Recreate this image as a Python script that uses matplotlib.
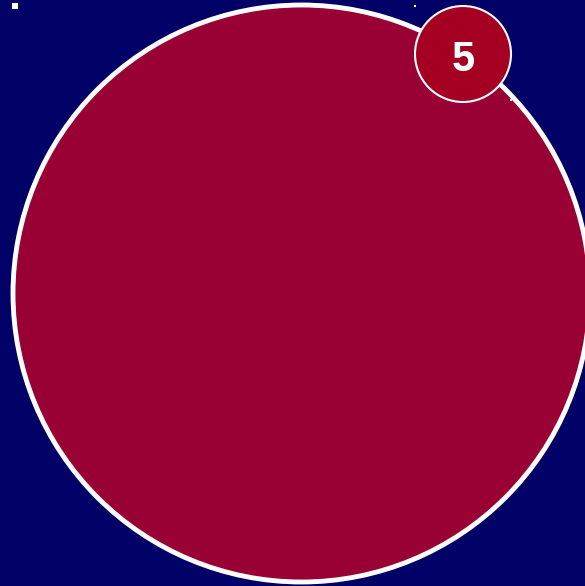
import matplotlib
matplotlib.use("Agg")
import matplotlib.pyplot as plt
from matplotlib.patches import Circle

# one bubble with its count badge
bubble_labels = ["5"]
bubble_counts = [5]
bubble_x = [301.5]
bubble_y = [293.5]
bubble_r = [288.5]

badge_x = [463]
badge_y = [54]
badge_r = [48]

# small marker squares seen on the canvas
dot_x = [15, 415, 511]
dot_y = [6, 6, 100]
dot_size = [6, 2.5, 2.5]

W, H = 585, 586
fig = plt.figure(figsize=(W / 100, H / 100), dpi=100)
fig.patch.set_facecolor("#000066")
ax = fig.add_axes([0, 0, 1, 1])
ax.set_facecolor("#000066")
ax.set_xlim(0, W)
ax.set_ylim(H, 0)
ax.set_aspect("equal")
ax.axis("off")

for x, y, r in zip(bubble_x, bubble_y, bubble_r):
    ax.add_patch(Circle((x, y), r, facecolor="#990033", edgecolor="white", linewidth=3.5, zorder=2))

for x, y, r, n in zip(badge_x, badge_y, badge_r, bubble_counts):
    ax.add_patch(Circle((x, y), r, facecolor="#A50021", edgecolor="white", linewidth=1.5, zorder=3))
    ax.text(x, y + 6, str(n), color="white", fontsize=30, fontweight="bold",
            family="Liberation Sans", ha="center", va="center", zorder=4)

for x, y, s in zip(dot_x, dot_y, dot_size):
    ax.add_patch(plt.Rectangle((x - s / 2, y - s / 2), s, s, facecolor="white", edgecolor="none", zorder=5))

fig.savefig("out.png", dpi=100, facecolor=fig.get_facecolor())
